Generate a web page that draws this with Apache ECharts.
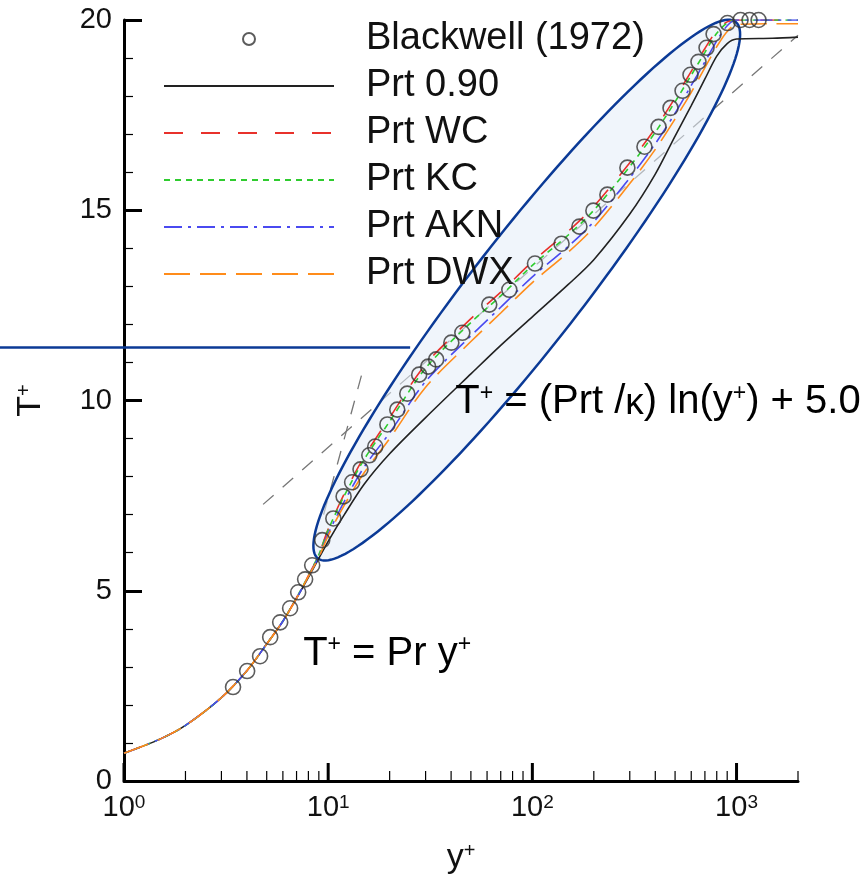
<!DOCTYPE html>
<html>
<head>
<meta charset="utf-8">
<title>T+ vs y+</title>
<script src="https://cdn.jsdelivr.net/npm/echarts@6/dist/echarts.min.js"></script>
<style>
  html, body { margin: 0; padding: 0; background: #fff; }
  #main { width: 866px; height: 880px; }
</style>
</head>
<body>
<div id="main"></div>
<script>
// Blackwell (1972) measurements
var blackwellYp = [3.42, 4.01, 4.64, 5.20, 5.82, 6.51, 7.13, 7.71, 8.35, 9.35, 10.6, 11.9, 13.1, 14.4, 15.9, 17.0,
  19.5, 21.8, 24.4, 27.9, 30.9, 33.8, 40.1, 45.4, 61.5, 77.1, 103, 139, 170, 199, 233, 292, 354, 415, 475, 544,
  595, 651, 713, 772, 903, 1046, 1158, 1282];
var blackwellT = [2.47, 2.89, 3.28, 3.78, 4.17, 4.54, 4.96, 5.30, 5.67, 6.33, 6.90, 7.48, 7.85, 8.19, 8.56, 8.79,
  9.37, 9.76, 10.18, 10.68, 10.89, 11.08, 11.52, 11.78, 12.52, 12.91, 13.60, 14.12, 14.57, 14.99, 15.41, 16.12,
  16.67, 17.19, 17.69, 18.14, 18.56, 18.90, 19.27, 19.63, 19.92, 20.0, 20.0, 20.0];

// model curves, all on the same y+ grid
var yPlus  = [1, 1.5, 2, 3, 4, 5, 6, 7, 8, 9, 10, 12, 15, 20, 30, 50, 70, 100, 150, 200, 300, 400, 500, 600, 700, 800, 900, 1000, 1500, 2000];
var tPrt09 = [0.73, 1.1, 1.46, 2.19, 2.9, 3.6, 4.2, 4.8, 5.35, 5.85, 6.3, 7.0, 7.8, 8.6, 9.55, 10.7, 11.45, 12.2, 13.05, 13.7, 14.9, 15.95, 16.95, 17.75, 18.45, 19.05, 19.38, 19.5, 19.52, 19.55];
var tWC    = [0.73, 1.1, 1.46, 2.19, 2.9, 3.6, 4.2, 4.82, 5.4, 5.95, 6.62, 7.55, 8.52, 9.55, 10.95, 12.15, 12.85, 13.65, 14.45, 15.1, 16.25, 17.15, 17.95, 18.65, 19.25, 19.72, 19.95, 20.0, 20.0, 20.0];
var tKC    = [0.73, 1.1, 1.46, 2.19, 2.9, 3.6, 4.2, 4.82, 5.4, 5.95, 6.6, 7.5, 8.45, 9.45, 10.85, 12.05, 12.75, 13.55, 14.35, 15.0, 16.15, 17.05, 17.85, 18.55, 19.15, 19.65, 19.92, 20.0, 20.0, 20.0];
var tAKN   = [0.73, 1.1, 1.46, 2.19, 2.9, 3.6, 4.2, 4.8, 5.38, 5.9, 6.5, 7.35, 8.25, 9.15, 10.5, 11.7, 12.45, 13.25, 14.05, 14.7, 15.85, 16.75, 17.55, 18.28, 18.9, 19.45, 19.85, 20.0, 20.0, 20.0];
var tDWX   = [0.73, 1.1, 1.46, 2.19, 2.9, 3.6, 4.2, 4.8, 5.38, 5.88, 6.45, 7.25, 8.1, 9.0, 10.35, 11.55, 12.3, 13.1, 13.9, 14.55, 15.7, 16.6, 17.4, 18.1, 18.75, 19.3, 19.7, 19.88, 19.9, 19.9];

// reference lines
var linRefYp = [9.5, 14.8];
var linRefT  = [7.0, 10.8];
var logRefYp = [4.8, 2000];
var logRefT  = [7.27, 19.6];

// axis ticks
var xMajorTicks = [1, 10, 100, 1000];
var xMinorTicks = [2, 3, 4, 5, 6, 7, 8, 9, 20, 30, 40, 50, 60, 70, 80, 90, 200, 300, 400, 500, 600, 700, 800, 900, 2000];

// annotation anchors (data coords)
var ellipseTipLow  = [8.9, 5.85];
var ellipseTipHigh = [990, 19.95];
var blueLineEnd    = [25.2, 11.39];
var logLawLabelAt  = [41.9, 9.95];
var linLawLabelAt  = [7.54, 3.35];

var FONT = 'Liberation Sans, Arial, Helvetica, sans-serif';

function zip(xs, ys) {
    var out = [];
    for (var i = 0; i < xs.length; i++) out.push([xs[i], ys[i]]);
    return out;
}

function tickSeries(vals, len, width) {
    return {
        type: 'custom',
        silent: true,
        clip: false,
        z: 5,
        data: vals.map(function (v) { return [v, 0]; }),
        renderItem: function (params, api) {
            var p = api.coord([api.value(0), 0]);
            return {
                type: 'line',
                shape: { x1: p[0], y1: p[1], x2: p[0], y2: p[1] - len },
                style: { stroke: '#000', lineWidth: width }
            };
        }
    };
}

function curve(name, data, color, dash, width) {
    return {
        name: name,
        type: 'line',
        data: data,
        symbol: 'none',
        smooth: 0.3,
        z: 3,
        itemStyle: { color: color },
        lineStyle: { color: color, width: width, type: dash }
    };
}

function lineLegend(name) {
    return { name: name, itemStyle: { opacity: 0 } };
}

var chart = echarts.init(document.getElementById('main'));

var option = {
    animation: false,
    backgroundColor: '#fff',
    grid: { left: 124, right: 68, top: 20, bottom: 98, containLabel: false },
    legend: {
        orient: 'vertical',
        left: 158,
        top: 15,
        itemWidth: 170,
        itemHeight: 12,
        itemGap: 9,
        selectedMode: false,
        textStyle: { fontFamily: FONT, fontSize: 38, color: '#111', lineHeight: 36, padding: [0, 0, 0, 27] },
        data: [
            { name: 'Blackwell (1972)' },
            lineLegend('Prt 0.90'),
            lineLegend('Prt WC'),
            lineLegend('Prt KC'),
            lineLegend('Prt AKN'),
            lineLegend('Prt DWX')
        ]
    },
    xAxis: {
        type: 'log',
        logBase: 10,
        min: 1,
        max: 2000,
        name: '{b|y}{s|+}',
        nameLocation: 'middle',
        nameGap: 60,
        nameTextStyle: {
            rich: {
                b: { fontFamily: FONT, fontSize: 34, color: '#111', verticalAlign: 'bottom' },
                s: { fontFamily: FONT, fontSize: 20, color: '#111', verticalAlign: 'top' }
            }
        },
        axisLine: { show: true, lineStyle: { color: '#000', width: 3 } },
        axisTick: { show: false },
        splitLine: { show: false },
        axisLabel: {
            margin: 12,
            formatter: function (v) {
                var e = Math.round(Math.log10(v));
                if (Math.abs(Math.pow(10, e) - v) > 1e-6) return '';
                return '{b|10}{e|' + e + '}';
            },
            rich: {
                b: { fontFamily: FONT, fontSize: 29, color: '#111', verticalAlign: 'bottom' },
                e: { fontFamily: FONT, fontSize: 19, color: '#111', verticalAlign: 'top' }
            }
        }
    },
    yAxis: {
        type: 'value',
        min: 0,
        max: 20,
        interval: 5,
        name: '{b|T}{s|+}',
        nameLocation: 'middle',
        nameGap: 76,
        nameRotate: 90,
        nameTextStyle: {
            rich: {
                b: { fontFamily: FONT, fontSize: 34, color: '#111', verticalAlign: 'bottom' },
                s: { fontFamily: FONT, fontSize: 20, color: '#111', verticalAlign: 'top' }
            }
        },
        axisLine: { show: true, lineStyle: { color: '#000', width: 3 } },
        axisTick: { show: true, inside: true, length: 18, lineStyle: { color: '#000', width: 3 } },
        minorTick: { show: true, splitNumber: 5, length: 9, lineStyle: { color: '#000', width: 1.2 } },
        splitLine: { show: false },
        axisLabel: { margin: 12, fontFamily: FONT, fontSize: 29, color: '#111' }
    },
    series: [
        {
            name: 'logref',
            type: 'line',
            data: zip(logRefYp, logRefT),
            symbol: 'none',
            z: 0,
            silent: true,
            lineStyle: { color: '#777', width: 1.3, type: [14, 12] }
        },
        {
            name: 'linref',
            type: 'line',
            data: zip(linRefYp, linRefT),
            symbol: 'none',
            z: 0,
            silent: true,
            lineStyle: { color: '#777', width: 1.3, type: [14, 12] }
        },
        curve('Prt 0.90', zip(yPlus, tPrt09), '#222222', 'solid', 1.6),
        curve('Prt WC', zip(yPlus, tWC), '#e8312b', [19, 18], 1.6),
        curve('Prt KC', zip(yPlus, tKC), '#2fcc2f', [6, 5], 1.6),
        curve('Prt AKN', zip(yPlus, tAKN), '#4a4af0', [18, 6, 3, 6], 1.6),
        curve('Prt DWX', zip(yPlus, tDWX), '#ff8c1a', [26, 10], 1.6),
        {
            name: 'Blackwell (1972)',
            type: 'scatter',
            data: zip(blackwellYp, blackwellT),
            symbol: 'circle',
            symbolSize: 15,
            z: 4,
            itemStyle: { color: 'rgba(0,0,0,0)', borderColor: '#333', borderWidth: 1.6 }
        },
        tickSeries(xMajorTicks, 18, 3),
        tickSeries(xMinorTicks, 10, 1.2)
    ]
};

chart.setOption(option);

// annotations placed through the axes' own scales
var pLow = chart.convertToPixel({ gridIndex: 0 }, ellipseTipLow);
var pHigh = chart.convertToPixel({ gridIndex: 0 }, ellipseTipHigh);
var cx = (pLow[0] + pHigh[0]) / 2, cy = (pLow[1] + pHigh[1]) / 2;
var dx = pHigh[0] - pLow[0], dy = pHigh[1] - pLow[1];
var a = Math.sqrt(dx * dx + dy * dy) / 2;
var ux = dx / (2 * a), uy = dy / (2 * a);
var b = 55;
var pts = [];
for (var i = 0; i < 180; i++) {
    var t = i / 180 * Math.PI * 2;
    pts.push([cx + a * Math.cos(t) * ux - b * Math.sin(t) * uy,
              cy + a * Math.cos(t) * uy + b * Math.sin(t) * ux]);
}
var pBlue = chart.convertToPixel({ gridIndex: 0 }, blueLineEnd);
var pLog = chart.convertToPixel({ gridIndex: 0 }, logLawLabelAt);
var pLin = chart.convertToPixel({ gridIndex: 0 }, linLawLabelAt);

var richEq = {
    n: { fontFamily: FONT, fontSize: 40, color: '#111', verticalAlign: 'bottom' },
    s: { fontFamily: FONT, fontSize: 23, color: '#111', verticalAlign: 'top' },
    k: { fontFamily: FONT, fontSize: 37, color: '#111', verticalAlign: 'bottom' }
};

chart.setOption({
    graphic: [
        {
            type: 'polygon',
            z: 1,
            silent: true,
            shape: { points: pts },
            style: { fill: 'rgba(228,237,247,0.55)', stroke: '#0b3a96', lineWidth: 2.5 }
        },
        {
            type: 'line',
            z: 1,
            silent: true,
            shape: { x1: 0, y1: pBlue[1], x2: pBlue[0], y2: pBlue[1] },
            style: { stroke: '#0b3a96', lineWidth: 2.5 }
        },
        {
            type: 'text',
            z: 6,
            x: pLog[0],
            y: pLog[1],
            style: {
                text: '{n|T}{s|+}{n| = (Prt /}{k|κ}{n|) ln(y}{s|+}{n|) + 5.0}',
                rich: richEq,
                verticalAlign: 'middle'
            }
        },
        {
            type: 'text',
            z: 6,
            x: pLin[0],
            y: pLin[1],
            style: {
                text: '{n|T}{s|+}{n| = Pr y}{s|+}',
                rich: richEq,
                verticalAlign: 'middle'
            }
        }
    ]
});
</script>
</body>
</html>
